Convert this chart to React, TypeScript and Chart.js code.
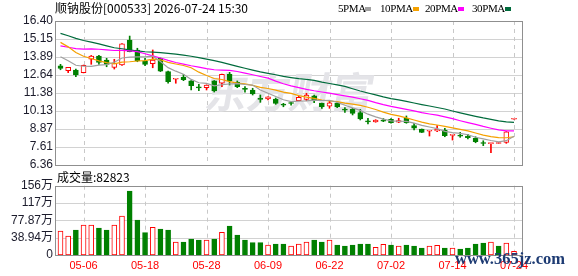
import React, { useEffect, useRef } from 'react';
import { Chart, registerables } from 'chart.js';

Chart.register(...registerables);

// ---------- data ----------
const dates = ['04-28','04-29','04-30','05-06','05-07','05-08','05-11','05-12','05-13','05-14',
  '05-15','05-18','05-19','05-20','05-21','05-22','05-25','05-26','05-27','05-28',
  '05-29','06-01','06-02','06-03','06-04','06-05','06-08','06-09','06-10','06-11',
  '06-12','06-15','06-16','06-17','06-18','06-22','06-23','06-24','06-25','06-26',
  '06-29','06-30','07-01','07-02','07-03','07-06','07-07','07-08','07-09','07-10',
  '07-13','07-14','07-15','07-16','07-17','07-20','07-21','07-22','07-23','07-24'];
const tickIdx = [3, 11, 19, 27, 35, 43, 51, 59];

const open = [13.28,12.93,12.98,12.80,13.73,13.96,13.68,13.17,13.33,15.07,
  14.38,13.61,13.42,13.80,12.87,12.34,12.47,12.22,11.77,11.75,
  12.22,12.06,12.68,12.13,11.66,11.59,10.98,10.96,10.96,10.56,
  10.67,10.84,10.94,11.19,10.66,10.47,10.66,10.21,10.24,10.01,
  9.39,9.36,9.44,9.55,9.35,9.62,9.10,8.87,8.71,8.73,
  8.80,8.43,8.39,8.38,8.22,7.88,7.85,7.86,7.94,9.55];
const high = [13.38,13.17,13.05,13.33,14.00,14.00,13.80,13.73,14.83,15.35,
  14.50,13.80,14.38,13.82,12.91,12.38,12.68,12.24,11.99,11.95,
  12.25,12.70,12.82,12.22,11.82,11.71,11.24,11.12,11.03,10.66,
  10.77,11.17,11.36,11.24,10.68,10.84,10.70,10.36,10.31,10.24,
  9.62,9.52,9.60,9.60,9.62,9.78,9.27,8.87,8.75,9.10,
  8.92,8.47,8.64,8.50,8.33,8.05,7.89,7.93,8.70,9.55];
const low = [13.00,12.80,12.52,12.78,13.38,13.38,13.21,13.05,13.30,14.25,
  13.56,13.28,13.14,12.87,12.06,12.06,12.24,11.59,11.54,11.59,
  11.45,11.82,11.94,11.75,11.43,11.24,10.73,10.89,10.59,10.42,
  10.54,10.84,10.84,10.70,10.31,10.31,10.36,10.03,9.85,9.50,
  9.22,9.34,9.38,9.27,9.31,9.27,8.80,8.62,8.38,8.68,
  8.33,8.10,8.29,8.17,7.91,7.71,7.22,7.86,7.87,9.55];
const close = [13.10,13.17,12.64,13.31,13.96,13.52,13.38,13.45,14.80,14.27,
  13.61,13.38,13.68,12.91,12.17,12.37,12.31,11.89,11.74,11.94,
  11.52,12.68,12.22,11.82,11.63,11.31,10.94,11.12,10.66,10.53,
  10.65,11.08,11.24,10.89,10.43,10.70,10.43,10.19,9.96,9.57,
  9.37,9.50,9.42,9.31,9.45,9.31,8.92,8.64,8.74,8.85,
  8.40,8.46,8.37,8.26,7.98,7.86,7.88,7.87,8.68,9.55];
// closes of the 29 sessions before the window (estimated from where the MA lines start)
const priorCloses = [18.2,18.0,17.9,17.4,17.2,17.6,17.3,16.9,16.6,15.9,
  15.0,14.4,14.0,13.8,14.0,14.2,14.4,14.7,14.8,14.8,
  16.3,16.6,15.9,15.5,15.25,14.55,14.25,13.65,14.00];

// volume in 万
const volume = [53.9,42.7,56.2,67.4,67.4,60.7,56.2,67.4,87.6,143.8,
  78.7,50.2,62.2,58.4,56.2,29.2,29.2,36.0,33.7,33.7,
  36.0,50.9,65.2,44.9,33.7,27.7,27.7,22.5,24.7,24.7,
  20.2,24.7,29.2,33.7,29.2,33.7,22.5,20.2,22.5,24.7,
  24.7,17.2,24.0,22.5,20.2,22.5,20.2,15.7,20.2,21.7,
  15.7,15.7,13.5,15.7,24.7,27.0,29.2,20.2,27.0,8.2823];
const volUp = [1,1,0,1,1,0,0,1,1,0, 0,0,1,0,0,1,0,0,0,1,
  0,1,0,0,0,0,0,1,0,0, 1,1,1,0,0,1,0,0,0,0,
  0,1,1,0,1,0,0,0,1,1, 0,1,0,0,0,0,1,0,1,1];

const priceTicks = [6.36, 7.615, 8.87, 10.125, 11.38, 12.635, 13.89, 15.145, 16.40];
const priceTickLabels = ['6.36','7.61','8.87','10.13','11.38','12.64','13.89','15.15','16.40'];
const volTicks = [0, 38.935, 77.87, 116.805, 155.74];
const volTickLabels = ['0','38.94万','77.87万','117万','156万'];

const maPeriods = [5, 10, 20, 30];
const maLabels = ['5PMA', '10PMA', '20PMA', '30PMA'];
const maColors = ['#a0a0a0', '#f5a100', '#ff00ff', '#006b3c'];

const title = '顺钠股份[000533] 2026-07-24 15:30';

// ---------- style ----------
const RED = '#ff0000';
const GREEN = '#008000';
const X_MIN = -0.585;
const X_MAX = 60.04;
const AXIS_FONT = '"Liberation Sans", "Noto Sans CJK SC", sans-serif';

function movingAvg(period: number) {
  const all = [...priorCloses, ...close];
  const off = priorCloses.length;
  return close.map((_, i) => {
    let s = 0;
    for (let k = i + off - period + 1; k <= i + off; k++) s += all[k];
    return s / period;
  });
}

const gridFrame = {
  id: 'gridFrame',
  beforeDatasetsDraw(chart: any, _a: any, opts: any) {
    const { ctx, chartArea: a } = chart;
    const xs = chart.scales.x, ys = chart.scales.y;
    ctx.save();
    ctx.lineWidth = 1;
    ctx.strokeStyle = '#d2d2d2';
    (opts.yTicks as number[]).forEach((v) => {
      const py = Math.round(ys.getPixelForValue(v)) + 0.5;
      if (py < a.top + 2 || py > a.bottom - 2) return;
      ctx.beginPath(); ctx.moveTo(a.left, py); ctx.lineTo(a.right, py); ctx.stroke();
    });
    ctx.strokeStyle = '#c8c8c8';
    ctx.setLineDash([4, 4]);
    tickIdx.forEach((i) => {
      const px = Math.round(xs.getPixelForValue(i)) + 0.5;
      ctx.beginPath(); ctx.moveTo(px, a.top); ctx.lineTo(px, a.bottom); ctx.stroke();
    });
    ctx.restore();
  },
  afterDatasetsDraw(chart: any) {
    const { ctx, chartArea: a } = chart;
    ctx.save();
    ctx.strokeStyle = '#8f8f8f';
    ctx.lineWidth = 1;
    const l = Math.round(a.left) - 0.5, t = Math.round(a.top) + 0.5;
    const r = Math.round(a.right) + 0.5, b = Math.round(a.bottom) + 0.5;
    ctx.strokeRect(l, t, r - l, b - t);
    ctx.restore();
  },
};

const watermark = {
  id: 'watermark',
  beforeDatasetsDraw(chart: any) {
    const { ctx } = chart;
    ctx.save();
    ctx.translate(206, 92);
    ctx.transform(1, 0, -0.18, 1, 0, 0);
    ctx.font = 'bold 42px "Noto Sans CJK SC"';
    ctx.fillStyle = '#e4e4e8';
    ctx.textBaseline = 'middle';
    ctx.fillText('东方财富', 0, 0);
    ctx.restore();
  },
};

export default function App() {
  const priceRef = useRef<HTMLCanvasElement>(null);
  const volRef = useRef<HTMLCanvasElement>(null);

  useEffect(() => {
    const up = close.map((c, i) => c > open[i] || (c === open[i] && c > (i ? close[i - 1] : priorCloses[priorCloses.length - 1])));

    const priceChart = new Chart(priceRef.current as HTMLCanvasElement, {
      type: 'bar',
      data: {
        datasets: [
          ...maPeriods.map((p, k) => ({
            type: 'line' as const,
            label: maLabels[k],
            data: movingAvg(p).map((v, i) => ({ x: i, y: v })),
            borderColor: maColors[k],
            borderWidth: 1.2,
            pointRadius: 0,
            tension: 0,
            fill: false,
          })),
          {
            type: 'bar' as const,
            label: 'body',
            data: close.map((c, i) => ({ x: i, y: [open[i], c] })),
            backgroundColor: up.map((u) => (u ? '#ffffff' : GREEN)),
            borderColor: up.map((u) => (u ? RED : GREEN)),
            borderWidth: 1,
            borderSkipped: false,
            barThickness: 5,
            minBarLength: 1,
            grouped: false,
          },
          {
            type: 'bar' as const,
            label: 'wick',
            data: close.map((_, i) => ({ x: i, y: [low[i], high[i]] })),
            backgroundColor: up.map((u) => (u ? RED : GREEN)),
            borderWidth: 0,
            barThickness: 1,
            minBarLength: 1,
            grouped: false,
          },
        ] as any,
      },
      options: {
        animation: false,
        responsive: false,
        maintainAspectRatio: false,
        layout: { padding: { top: 21, right: 56, bottom: 11, left: 0 } },
        plugins: {
          legend: { display: false },
          tooltip: { enabled: false },
          gridFrame: { yTicks: priceTicks },
        } as any,
        scales: {
          x: { type: 'linear', min: X_MIN, max: X_MAX, display: false, offset: false },
          y: {
            type: 'linear', min: 6.36, max: 16.40,
            grid: { display: false, drawTicks: false },
            border: { display: false },
            afterBuildTicks: (s: any) => { s.ticks = priceTicks.map((v) => ({ value: v })); },
            afterFit: (s: any) => { s.width = 56; },
            ticks: {
              autoSkip: false, padding: 3, color: '#1c1c2c',
              font: { family: AXIS_FONT, size: 12 },
              callback: (_v: any, i: number) => priceTickLabels[i],
            },
          },
        } as any,
      },
      plugins: [gridFrame, watermark],
    });

    const volChart = new Chart(volRef.current as HTMLCanvasElement, {
      type: 'bar',
      data: {
        datasets: [{
          label: '成交量',
          data: volume.map((v, i) => ({ x: i, y: v })),
          backgroundColor: volUp.map((u) => (u ? '#ffffff' : GREEN)),
          borderColor: volUp.map((u) => (u ? RED : GREEN)),
          borderWidth: 1,
          borderSkipped: false,
          barThickness: 5,
          grouped: false,
        }] as any,
      },
      options: {
        animation: false,
        responsive: false,
        maintainAspectRatio: false,
        layout: { padding: { top: 15.7, right: 56, bottom: 0, left: 0 } },
        plugins: {
          legend: { display: false },
          tooltip: { enabled: false },
          gridFrame: { yTicks: volTicks },
        } as any,
        scales: {
          x: {
            type: 'linear', min: X_MIN, max: X_MAX, offset: false,
            grid: { display: false, drawTicks: false },
            border: { display: false },
            afterBuildTicks: (s: any) => { s.ticks = tickIdx.map((v) => ({ value: v })); },
            afterFit: (s: any) => { s.height = 21; },
            ticks: {
              autoSkip: false, maxRotation: 0, padding: 4, color: RED,
              font: { family: AXIS_FONT, size: 11 },
              callback: (v: any) => dates[v],
            },
          },
          y: {
            type: 'linear', min: 0, max: 155.74,
            grid: { display: false, drawTicks: false },
            border: { display: false },
            afterBuildTicks: (s: any) => { s.ticks = volTicks.map((v) => ({ value: v })); },
            afterFit: (s: any) => { s.width = 56; },
            ticks: {
              autoSkip: false, padding: 3, color: '#1c1c2c',
              font: { family: AXIS_FONT, size: 12 },
              callback: (_v: any, i: number) => volTickLabels[i],
            },
          },
        } as any,
      },
      plugins: [gridFrame],
    });

    return () => { priceChart.destroy(); volChart.destroy(); };
  }, []);

  const legendX = [338, 380, 425, 472];
  const boxX = [365, 413, 458, 505];

  return (
    <div style={{ position: 'fixed', left: 0, top: 0, width: 578, height: 276, background: '#fff', overflow: 'hidden' }}>
      <canvas ref={volRef} width={578} height={106} style={{ position: 'absolute', left: 0, top: 170, width: 578, height: 106 }} />
      <canvas ref={priceRef} width={578} height={176} style={{ position: 'absolute', left: 0, top: 0, width: 578, height: 176 }} />
      <div style={{ position: 'absolute', left: 55, top: 1, fontFamily: '"Noto Sans CJK SC", sans-serif', fontSize: 12, lineHeight: '14px', color: '#000', whiteSpace: 'pre' }}>
        {title}
      </div>
      {maLabels.map((t, k) => (
        <React.Fragment key={t}>
          <div style={{ position: 'absolute', left: legendX[k], top: 1, fontFamily: '"Liberation Serif", serif', fontSize: 11, lineHeight: '14px', letterSpacing: '-0.4px', color: '#000', whiteSpace: 'pre' }}>{t}</div>
          <div style={{ position: 'absolute', left: boxX[k], top: 7, width: 6, height: 4, background: maColors[k] }} />
        </React.Fragment>
      ))}
      <div style={{ position: 'absolute', left: 57, top: 170, fontFamily: '"Noto Sans CJK SC", sans-serif', fontSize: 12, lineHeight: '14px', color: '#000', whiteSpace: 'pre' }}>
        {'成交量:' + Math.round(volume[volume.length - 1] * 10000)}
      </div>
      <div style={{ position: 'absolute', left: 455, top: 251, fontFamily: '"Liberation Serif", serif', fontWeight: 'bold', fontSize: 16.5, lineHeight: '16.5px', color: '#1d3b73', whiteSpace: 'pre' }}>
        www.365jz.com
      </div>
    </div>
  );
}
